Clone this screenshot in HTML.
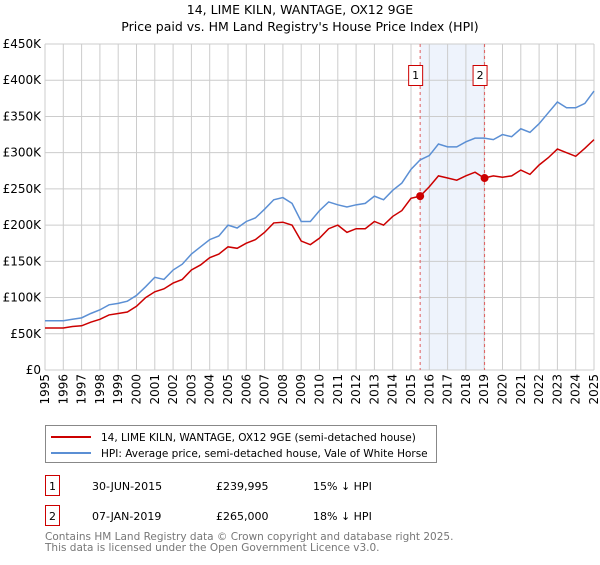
<!DOCTYPE html>
<html><head><meta charset="utf-8"><style>
body{margin:0;background:#fff;font-family:"Liberation Sans","DejaVu Sans",sans-serif;}
svg text{font-family:"DejaVu Sans","Liberation Sans",sans-serif;}
</style></head><body>
<svg id="c" width="600" height="560" xmlns="http://www.w3.org/2000/svg">
<text x="300" y="14" text-anchor="middle" font-size="12.5">14, LIME KILN, WANTAGE, OX12 9GE</text>
<text x="300" y="31" text-anchor="middle" font-size="12.5">Price paid vs. HM Land Registry's House Price Index (HPI)</text>
<g id="grid"></g><g id="plot"></g><g id="axes"></g>
<g>
<rect x="45.5" y="425.5" width="391" height="37" fill="#fff" stroke="#888"/>
<line x1="51" y1="437" x2="91" y2="437" stroke="#cc0000" stroke-width="2"/>
<text x="101" y="441" font-size="10.5">14, LIME KILN, WANTAGE, OX12 9GE (semi-detached house)</text>
<line x1="51" y1="453" x2="91" y2="453" stroke="#5b8fd4" stroke-width="2"/>
<text x="101" y="457" font-size="10.5">HPI: Average price, semi-detached house, Vale of White Horse</text>
</g>
<g font-size="11">
<rect x="45.5" y="475.5" width="14" height="20" fill="#fff" stroke="#cc0000"/><text x="52.5" y="490" text-anchor="middle">1</text>
<text x="92" y="490">30-JUN-2015</text><text x="216" y="490">£239,995</text><text x="313" y="490">15% ↓ HPI</text>
<rect x="45.5" y="505.5" width="14" height="20" fill="#fff" stroke="#cc0000"/><text x="52.5" y="520" text-anchor="middle">2</text>
<text x="92" y="520">07-JAN-2019</text><text x="216" y="520">£265,000</text><text x="313" y="520">18% ↓ HPI</text>
</g>
<text x="45" y="540" font-size="10.5" fill="#777">Contains HM Land Registry data © Crown copyright and database right 2025.</text>
<text x="45" y="551" font-size="10.5" fill="#777">This data is licensed under the Open Government Licence v3.0.</text>
</svg>
<script>
const hpiYears=[1995,1995.5,1996,1996.5,1997,1997.5,1998,1998.5,1999,1999.5,2000,2000.5,2001,2001.5,2002,2002.5,2003,2003.5,2004,2004.5,2005,2005.5,2006,2006.5,2007,2007.5,2008,2008.5,2009,2009.5,2010,2010.5,2011,2011.5,2012,2012.5,2013,2013.5,2014,2014.5,2015,2015.5,2016,2016.5,2017,2017.5,2018,2018.5,2019,2019.5,2020,2020.5,2021,2021.5,2022,2022.5,2023,2023.5,2024,2024.5,2025];
const hpiValues=[68,68,68,70,72,78,83,90,92,95,103,115,128,125,138,146,160,170,180,185,200,196,205,210,222,235,238,230,205,205,220,232,228,225,228,230,240,235,248,258,277,290,296,312,308,308,315,320,320,318,325,322,333,328,340,355,370,362,362,368,385];
const priceValues=[58,58,58,60,61,66,70,76,78,80,88,100,108,112,120,125,138,145,155,160,170,168,175,180,190,203,204,200,178,173,182,195,200,190,195,195,205,200,212,220,237,240,253,268,265,262,268,273,265,268,266,268,276,270,283,293,305,300,295,306,318];
const saleYears=[2015.5,2019.02];
const salePrices=[239.995,265];
const saleLabels=["1","2"];
const yTicks=[0,50,100,150,200,250,300,350,400,450];
const yTickLabels=["£0","£50K","£100K","£150K","£200K","£250K","£300K","£350K","£400K","£450K"];
const xTicks=[1995,1996,1997,1998,1999,2000,2001,2002,2003,2004,2005,2006,2007,2008,2009,2010,2011,2012,2013,2014,2015,2016,2017,2018,2019,2020,2021,2022,2023,2024,2025];

const NS="http://www.w3.org/2000/svg";
const X0=45,X1=594,Y0=370,Y1=44;
const sx=y=>X0+(y-1995)/30*(X1-X0);
const sy=v=>Y0-v/450*(Y0-Y1);
function mk(tag,attrs,parent){const e=document.createElementNS(NS,tag);for(const k in attrs)e.setAttribute(k,attrs[k]);parent.appendChild(e);return e;}
const grid=document.getElementById('grid'),plot=document.getElementById('plot'),axes=document.getElementById('axes');
mk('rect',{x:X0,y:Y1,width:X1-X0,height:Y0-Y1,fill:'#fff'},grid);
const sh=mk('rect',{x:sx(saleYears[0]),y:Y1,width:sx(saleYears[1])-sx(saleYears[0]),height:Y0-Y1,fill:'#eef3fc'},grid);


yTicks.forEach((t,i)=>{
 const l=mk('line',{x1:X0,x2:X1,y1:sy(t),y2:sy(t),stroke:'#ccc'},grid);
 
 
 const tx=mk('text',{x:41,y:sy(t)+4,'text-anchor':'end','font-size':'12'},axes);
 
 
 tx.textContent=yTickLabels[i];
});
xTicks.forEach(t=>{
 const l=mk('line',{x1:sx(t),x2:sx(t),y1:Y1,y2:Y0,stroke:'#ccc'},grid);
 
 
 const tx=mk('text',{x:0,y:0,'text-anchor':'end','font-size':'12',transform:`translate(${sx(t)+4},374) rotate(-90)`},axes);
 
 
 tx.textContent=t;
});
saleYears.forEach((y,i)=>{
 const l=mk('line',{x1:sx(y),x2:sx(y),y1:Y1,y2:Y0,stroke:'#e06060','stroke-dasharray':'3,3'},plot);
 
 
});
const hp=mk('polyline',{points:hpiYears.map((y,i)=>sx(y)+','+sy(hpiValues[i])).join(' '),fill:'none',stroke:'#5b8fd4','stroke-width':'1.5'},plot);


const pp=mk('polyline',{points:hpiYears.map((y,i)=>sx(y)+','+sy(priceValues[i])).join(' '),fill:'none',stroke:'#cc0000','stroke-width':'1.5'},plot);


saleYears.forEach((y,i)=>{
 const c=mk('circle',{cx:sx(y),cy:sy(salePrices[i]),r:4,fill:'#cc0000'},plot);
 
 
 const r=mk('rect',{x:sx(y)-11.5,y:65.5,width:14,height:20,fill:'#fff',stroke:'#cc0000'},plot);
 
 
 const t=mk('text',{x:sx(y)-4.5,y:79,'text-anchor':'middle','font-size':'11'},plot);
 
 
 t.textContent=saleLabels[i];
});
</script>
</body></html>
